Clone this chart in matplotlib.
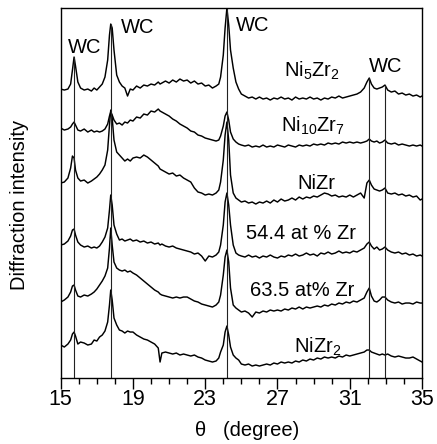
import numpy as np
import matplotlib
matplotlib.use("Agg")
import matplotlib.pyplot as plt

plt.rcParams['font.family'] = ['Liberation Sans', 'DejaVu Sans']
plt.rcParams['mathtext.fontset'] = 'custom'
plt.rcParams['mathtext.rm'] = 'Liberation Sans'
plt.rcParams['mathtext.it'] = 'Liberation Sans:italic'

# 2-theta grid (degree)
theta = [15.0, 15.2, 15.4, 15.55, 15.65, 15.74, 15.82, 15.95, 16.1, 16.3, 16.5, 16.7, 16.85, 17.0,
         17.15, 17.3, 17.45, 17.6, 17.7, 17.77, 17.85, 17.95, 18.1, 18.25, 18.4, 18.55, 18.7, 18.85,
         19.0, 19.2, 19.4, 19.6, 19.8, 20.0, 20.2, 20.4, 20.5, 20.6, 20.8,
         21.0, 21.2, 21.4, 21.6, 21.8, 22.0, 22.2, 22.4, 22.6, 22.8, 23.0,
         23.2, 23.4, 23.6, 23.75, 23.85, 24.0, 24.1, 24.2, 24.3, 24.4, 24.55, 24.7, 24.85,
         25.0, 25.2, 25.4, 25.6, 25.8, 26.0, 26.2, 26.4, 26.6, 26.8, 27.0, 27.2, 27.4, 27.6, 27.8,
         28.0, 28.2, 28.4, 28.6, 28.8, 29.0, 29.2, 29.4, 29.6, 29.8,
         30.0, 30.2, 30.4, 30.6, 30.8, 31.0, 31.2, 31.4, 31.6, 31.8,
         31.95, 32.08, 32.2, 32.35, 32.5, 32.65, 32.8, 32.95, 33.1,
         33.3, 33.5, 33.7, 33.9, 34.1, 34.3, 34.5, 34.7, 34.9, 35.0]

ni5zr2 = [89, 90, 89, 84, 70, 57, 66, 82, 88, 90, 89, 91, 88, 90,
          87, 84, 77, 60, 35, 24, 28, 50, 75, 82, 86, 88, 96, 89,
          90, 86, 88, 85, 86, 84, 85, 82, 84, 83, 81,
          83, 80, 82, 79, 81, 80, 83, 81, 84, 83, 86,
          85, 88, 86, 84, 77, 55, 28, 8, 25, 50, 68, 82, 89,
          94, 96, 98, 97, 99, 97, 99, 98, 100, 98, 99, 97, 99, 98, 100,
          97, 99, 98, 99, 97, 99, 98, 100, 98, 99,
          97, 98, 96, 98, 97, 96, 95, 94, 92, 88,
          82, 78, 84, 88, 89, 88, 87, 85, 90,
          92, 91, 94, 93, 95, 94, 96, 95, 97, 96]

ni10zr7 = [128, 130, 129, 127, 124, 122, 125, 130, 131, 129, 132, 130, 132, 131,
           132, 131, 129, 124, 116, 112, 115, 120, 124, 123, 125, 122, 123, 120,
           121, 117, 118, 114, 115, 111, 112, 109, 111, 112, 114,
           116, 119, 121, 124, 126, 128, 131, 132, 135, 136, 138,
           139, 140, 141, 140, 136, 126, 116, 112, 120, 132, 139, 142, 144,
           145, 146, 145, 147, 146, 147, 145, 147, 146, 147, 145, 146, 147, 145, 146,
           147, 145, 146, 145, 146, 144, 145, 144, 145, 143,
           144, 143, 144, 142, 143, 142, 143, 142, 143, 142,
           141, 139, 141, 142, 141, 143, 142, 140, 143,
           144, 143, 145, 144, 145, 146, 145, 146, 145, 146]

nizr = [183, 182, 178, 168, 156, 158, 170, 178, 181, 180, 183, 181, 179, 177,
        174, 170, 165, 150, 125, 110, 118, 140, 152, 155, 158, 161, 159, 161,
        158, 157, 158, 155, 157, 160, 163, 166, 169, 170, 172,
        174, 173, 176, 175, 178, 180, 182, 188, 192, 193, 195,
        194, 195, 193, 190, 182, 160, 135, 122, 140, 175, 193, 198, 200,
        202, 201, 203, 202, 204, 202, 203, 201, 203, 200, 202, 199, 201, 200, 198,
        200, 197, 199, 197, 198, 196, 197, 195, 193, 194,
        196, 195, 197, 196, 197, 195, 197, 195, 193, 198,
        183, 180, 185, 189, 190, 191, 190, 188, 193,
        194, 193, 195, 194, 196, 195, 197, 196, 200, 199]

zr544 = [245, 244, 241, 236, 230, 229, 235, 242, 245, 247, 246, 248, 247, 248,
         246, 242, 237, 228, 210, 195, 205, 225, 234, 240, 239, 241, 240, 239,
         241, 240, 242, 241, 243, 242, 244, 243, 245, 244, 246,
         247, 246, 248, 249, 250, 251, 252, 254, 253, 256, 261,
         256, 257, 255, 252, 245, 225, 202, 193, 205, 225, 245, 253, 255,
         256, 257, 255, 257, 256, 258, 256, 257, 255, 257, 258, 256, 257, 255, 256,
         254, 256, 255, 253, 255, 254, 256, 253, 254, 252,
         254, 253, 251, 253, 252, 253, 251, 252, 250, 248,
         244, 242, 246, 249, 247, 250, 249, 247, 250,
         252, 253, 252, 254, 253, 255, 254, 256, 255, 256]

zr635 = [302, 300, 297, 292, 286, 285, 290, 296, 297, 295, 296, 294, 292, 289,
         285, 281, 276, 268, 248, 228, 245, 262, 268, 270, 271, 270, 272, 271,
         273, 275, 278, 281, 284, 287, 290, 292, 294, 295, 296,
         297, 298, 297, 298, 297, 297, 299, 301, 302, 304, 305,
         306, 307, 305, 302, 295, 275, 257, 250, 262, 288, 305, 308, 310,
         312, 311, 313, 317, 312, 313, 311, 312, 310, 311, 310, 311, 309, 310, 308,
         309, 307, 309, 307, 308, 307, 306, 307, 305, 306,
         304, 305, 303, 304, 302, 303, 301, 302, 300, 298,
         292, 288, 296, 301, 302, 300, 297, 297, 300,
         302, 303, 302, 304, 303, 303, 304, 302, 303, 303]

nizr2 = [345, 347, 344, 340, 334, 332, 336, 344, 342, 343, 345, 344, 340, 341,
         337, 335, 331, 322, 305, 290, 300, 318, 325, 330, 331, 333, 331, 332,
         332, 335, 337, 339, 340, 342, 344, 348, 362, 353, 352,
         353, 354, 353, 355, 354, 355, 356, 355, 357, 358, 360,
         361, 362, 361, 358, 352, 345, 332, 326, 335, 347, 355, 358, 360,
         364, 365, 364, 366, 365, 366, 365, 364, 365, 363, 364, 362, 363, 362, 363,
         361, 362, 360, 361, 359, 360, 358, 359, 357, 358,
         357, 358, 356, 357, 355, 356, 355, 354, 353, 352,
         350, 350, 352, 353, 354, 355, 354, 355, 354,
         356, 357, 356, 357, 358, 358, 357, 359, 361, 362]

wc_peaks = [15.74, 17.77, 24.2, 32.08, 32.95]

sample_labels = [r'Ni$_5$Zr$_2$', r'Ni$_{10}$Zr$_7$', 'NiZr',
                 '54.4 at % Zr', '63.5 at% Zr', r'NiZr$_2$']
label_x = [28.93, 28.97, 29.13, 28.3, 28.35, 29.25]
label_y = [301, 246, 189, 139, 82, 25]

wc_x = [16.35, 19.28, 25.6, 33.0]
wc_y = [325, 345, 347, 306]

frame_top = 378  # depth -> height above the x axis

fig = plt.figure(figsize=(4.37, 4.44), dpi=100)
ax = fig.add_axes([0.1389, 0.1486, 0.8268, 0.8333])

x = np.array(theta)
traces = [ni5zr2, ni10zr7, nizr, zr544, zr635, nizr2]
for tr in traces:
    ax.plot(x, frame_top - np.array(tr), color='black', lw=1.05)

# WC reference lines up to the top trace
top_trace = frame_top - np.array(ni5zr2)
for p in wc_peaks:
    ax.vlines(p, 0, np.interp(p, x, top_trace), color='#222222', lw=0.8)

for lab, lx, ly in zip(sample_labels, label_x, label_y):
    ax.text(lx, ly, lab, ha='center', va='baseline', fontsize=14.5)
for lx, ly in zip(wc_x, wc_y):
    ax.text(lx, ly, 'WC', ha='center', va='baseline', fontsize=14.5)

ax.set_xlim(15, 35)
ax.set_ylim(0, 370)
ax.set_xticks([15, 19, 23, 27, 31, 35])
ax.set_xticks(np.arange(15, 36, 1), minor=True)
ax.set_yticks([])
ax.tick_params(axis='x', which='major', direction='out', length=8, width=1,
               labelsize=15.5, pad=0)
ax.tick_params(axis='x', which='minor', direction='out', length=4.5, width=1)
for s in ax.spines.values():
    s.set_linewidth(1.0)

fig.text(0.566, 0.03, r'θ   (degree)', ha='center', va='center', fontsize=14.5)
fig.text(0.0435, 0.538, 'Diffraction intensity', rotation=90,
         ha='center', va='center', fontsize=14.5)

plt.savefig('out.png', dpi=100)
